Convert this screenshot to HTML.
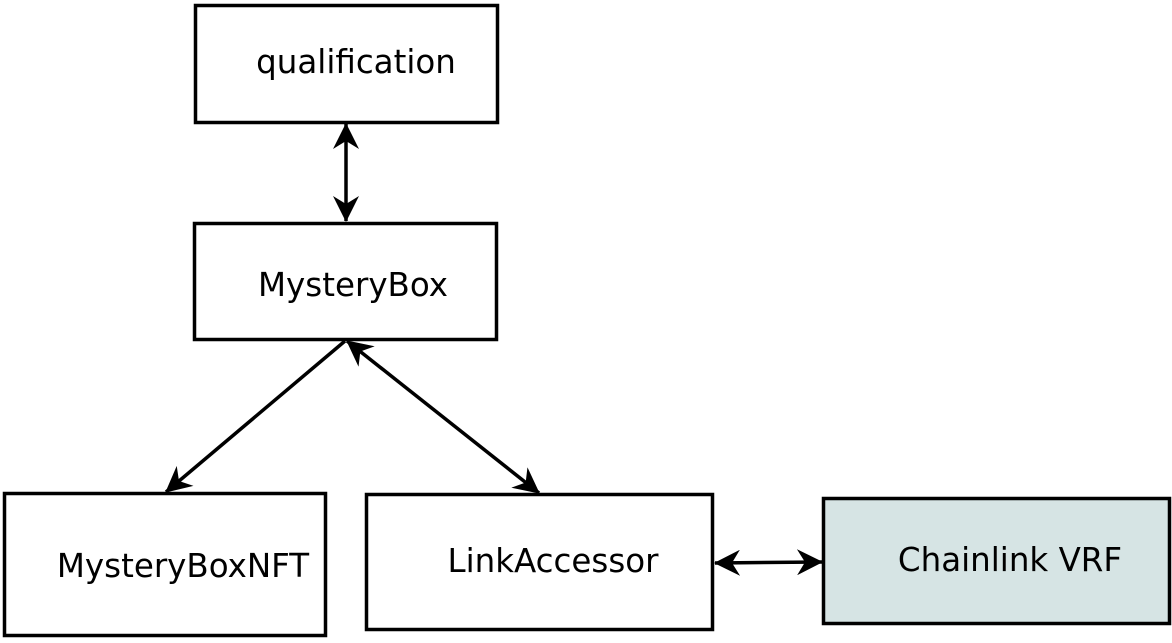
<!DOCTYPE html>
<html><head><meta charset="utf-8"><style>
html,body{margin:0;padding:0;background:#fff;}
svg{display:block;}
text{font-family:"DejaVu Sans","Liberation Sans",sans-serif;font-size:32.5px;fill:#000;}
</style></head><body>
<svg width="1172" height="643" viewBox="0 0 1172 643" xmlns="http://www.w3.org/2000/svg">
<defs>
<marker id="a" viewBox="0 0 26 26" refX="25" refY="13" markerWidth="26" markerHeight="26" markerUnits="userSpaceOnUse" orient="auto-start-reverse">
<path d="M0,0 L26,13 L0,26 L8,13 Z" fill="#000"/>
</marker>
</defs>
<g fill="none" stroke="#000" stroke-width="3.5">
<rect x="195.5" y="5.5" width="302" height="117" fill="#fff"/>
<rect x="194.5" y="223.5" width="302" height="116" fill="#fff"/>
<rect x="4.5" y="493.5" width="321" height="142" fill="#fff"/>
<rect x="366.5" y="494.5" width="346" height="135" fill="#fff"/>
<rect x="823.5" y="498.5" width="346" height="125" fill="#d6e4e4"/>
<line x1="346" y1="124" x2="346" y2="221" marker-start="url(#a)" marker-end="url(#a)"/>
<line x1="345" y1="341" x2="166" y2="492" marker-end="url(#a)"/>
<line x1="347" y1="341" x2="539" y2="493" marker-start="url(#a)" marker-end="url(#a)"/>
<line x1="715" y1="563" x2="822" y2="562" marker-start="url(#a)" marker-end="url(#a)"/>
</g>
<text x="356" y="73" text-anchor="middle" font-size="32.5">qualification</text>
<text x="353" y="296" text-anchor="middle" font-size="32.5">MysteryBox</text>
<text x="183" y="577" text-anchor="middle" font-size="32.5">MysteryBoxNFT</text>
<text x="553" y="572" text-anchor="middle" font-size="32.5">LinkAccessor</text>
<text x="1010" y="571" text-anchor="middle" font-size="32.5">Chainlink VRF</text>
</svg>
</body></html>
